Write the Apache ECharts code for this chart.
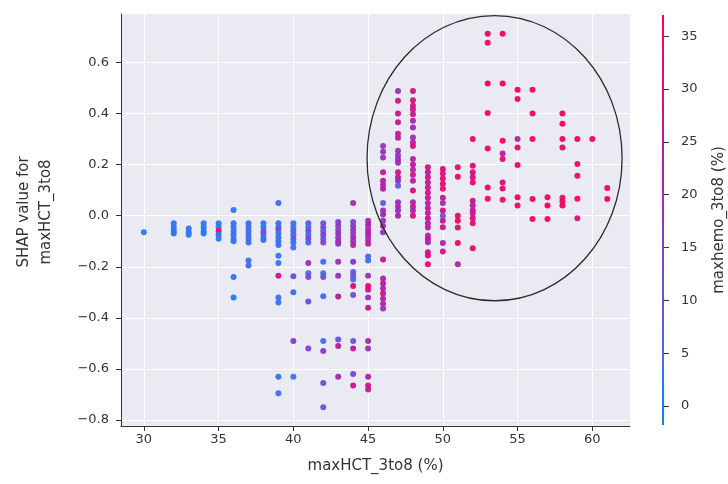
<!DOCTYPE html>
<html><head><meta charset="utf-8">
<script src="https://cdn.jsdelivr.net/npm/echarts@6/dist/echarts.min.js"></script>
<style>html,body{margin:0;padding:0;background:#fff}#c{width:728px;height:484px}</style>
</head><body><div id="c"></div>
<script>
// maxHCT_3to8 (%) column values
const hctCols = [30,32,33,34,35,36,37,38,39,40,41,42,43,44,45,46,47,48,49,50,51,52,53,54,55,56,57,58,59,60,61];
// SHAP values per column
const shapCols = [
 [-0.065],
 [-0.03,-0.045,-0.06,-0.07],
 [-0.05,-0.065,-0.075],
 [-0.03,-0.045,-0.06,-0.07],
 [-0.03,-0.045,-0.06,-0.075,-0.09],
 [0.022,-0.03,-0.045,-0.06,-0.075,-0.09,-0.1,-0.24,-0.32],
 [-0.03,-0.045,-0.06,-0.075,-0.09,-0.105,-0.175,-0.195],
 [-0.03,-0.045,-0.06,-0.07,-0.085,-0.095],
 [0.05,-0.03,-0.045,-0.055,-0.07,-0.085,-0.1,-0.115,-0.157,-0.185,-0.235,-0.32,-0.34,-0.63,-0.695],
 [-0.03,-0.045,-0.06,-0.075,-0.09,-0.105,-0.125,-0.237,-0.3,-0.49,-0.63],
 [-0.03,-0.045,-0.06,-0.075,-0.09,-0.105,-0.185,-0.225,-0.24,-0.336,-0.52],
 [-0.03,-0.045,-0.06,-0.075,-0.09,-0.105,-0.18,-0.225,-0.24,-0.315,-0.49,-0.53,-0.655,-0.75],
 [-0.025,-0.04,-0.055,-0.07,-0.085,-0.1,-0.11,-0.18,-0.235,-0.316,-0.485,-0.51,-0.63],
 [0.05,-0.025,-0.04,-0.055,-0.07,-0.085,-0.1,-0.115,-0.18,-0.22,-0.235,-0.25,-0.275,-0.31,-0.49,-0.52,-0.62,-0.665],
 [-0.02,-0.035,-0.05,-0.065,-0.08,-0.095,-0.11,-0.16,-0.175,-0.235,-0.275,-0.29,-0.32,-0.36,-0.49,-0.52,-0.63,-0.665,-0.68],
 [0.273,0.25,0.228,0.17,0.137,0.12,0.105,0.05,0.02,0.005,-0.02,-0.04,-0.065,-0.172,-0.246,-0.265,-0.285,-0.305,-0.325,-0.345,-0.363],
 [0.488,0.45,0.40,0.365,0.32,0.305,0.254,0.235,0.22,0.207,0.17,0.15,0.137,0.117,0.052,0.035,0.02,0.0],
 [0.488,0.452,0.43,0.415,0.397,0.371,0.345,0.306,0.286,0.273,0.222,0.2,0.18,0.16,0.137,0.098,0.052,0.035,0.02,0.0],
 [0.189,0.17,0.15,0.13,0.11,0.09,0.07,0.05,0.03,0.01,-0.01,-0.03,-0.046,-0.078,-0.09,-0.104,-0.143,-0.156,-0.19],
 [0.183,0.165,0.145,0.125,0.105,0.07,0.05,0.02,0.0,-0.02,-0.045,-0.107,-0.14],
 [0.189,0.152,0.0,-0.02,-0.046,-0.107,-0.19],
 [0.30,0.195,0.17,0.15,0.13,0.058,0.04,0.02,0.008,-0.01,-0.03,-0.128],
 [0.712,0.677,0.517,0.402,0.263,0.11,0.066],
 [0.712,0.517,0.293,0.243,0.222,0.13,0.106,0.062],
 [0.493,0.456,0.30,0.267,0.198,0.072,0.04],
 [0.493,0.40,0.30,0.065,-0.013],
 [0.072,0.04,-0.013],
 [0.40,0.36,0.30,0.267,0.07,0.055,0.04],
 [0.30,0.202,0.156,0.066,-0.01],
 [0.30],
 [0.108,0.065]
];
// maxhemo_3to8 (%) values per column (colour)
const hemoCols = [
 [2],
 [2,3,2,3],
 [2,3,2],
 [3,2,3,2],
 [3,2,36,3,2],
 [3,3,4,2,5,3,4,3,2],
 [3,4,3,5,3,4,3,4],
 [4,3,5,12,3,4],
 [3,3,4,12,3,5,3,4,3,3,30,3,3,3,4],
 [4,3,8,4,10,3,4,12,4,16,3],
 [8,5,12,4,14,6,20,5,14,11,15],
 [12,14,6,16,10,14,4,6,12,5,5,17,12,11],
 [15,18,12,20,16,22,18,19,18,26,10,26,22],
 [20,12,16,20,14,22,18,24,18,8,12,5,32,12,11,26,13,27],
 [20,24,18,26,22,20,25,4,5,18,33,28,20,27,22,19,26,27,26],
 [18,19,17,28,26,22,24,8,20,22,18,20,19,28,22,26,24,28,25,22,19],
 [19,27,27,26,27,24,19,18,20,19,28,26,21,9,20,22,19,24],
 [30,30,29,28,27,22,21,20,23,30,22,28,21,29,24,31,22,27,20,30],
 [28,25,30,24,28,26,31,22,27,24,29,22,26,20,28,22,30,29,32],
 [34,29,32,30,33,28,22,30,8,27,30,22,30],
 [33,34,34,35,33,34,24],
 [35,34,32,30,33,28,24,30,22,33,32,35],
 [36,35,36,35,35,34,35],
 [36,36,35,24,33,30,32,35],
 [35,35,22,35,35,35,34],
 [36,35,35,35,35],
 [35,36,35],
 [35,35,35,35,35,34,35],
 [36,35,35,35,30],
 [36],
 [35,36]
];
const xTicks = [30,35,40,45,50,55,60];
const yTicks = [-0.8,-0.6,-0.4,-0.2,0,0.2,0.4,0.6];
const cbTicks = [0,5,10,15,20,25,30,35];
const xRange = [28.47, 62.52];
const yRange = [-0.823, 0.789];
const hemoRange = [-1.8, 37];
const cmap = ['#008bfb','#3b6ff0','#6356e0','#8240cc','#a02ab4','#bf1899','#df0c77','#ff0051'];
// annotation ellipse: centre x, centre y, half-width, half-height (data units)
const ellipseAnno = [53.46, 0.225, 8.53, 0.558];

const pts = [];
hctCols.forEach((h, i) => {
  shapCols[i].forEach((s, j) => pts.push([h, s, hemoCols[i][j]]));
});
const FONT = 'DejaVu Sans';
const TXT = '#333333';
const fmt1 = v => v.toFixed(1).replace('-', '\u2212');

const chart = echarts.init(document.getElementById('c'), null, {renderer: 'canvas'});
chart.setOption({
  animation: false,
  backgroundColor: '#ffffff',
  grid: [
    {left: 121, right: 98, top: 14, bottom: 58, show: true, backgroundColor: '#eaeaf2', borderWidth: 0},
    {left: 662, width: 5, top: 15, height: 410}
  ],
  xAxis: [
    {type: 'value', gridIndex: 0, min: xRange[0], max: xRange[1],
     axisLine: {show: true, onZero: false, lineStyle: {color: TXT, width: 1}},
     axisTick: {show: true, length: 5, customValues: xTicks, lineStyle: {color: TXT}},
     axisLabel: {customValues: xTicks, margin: 7, color: TXT, fontSize: 13, fontFamily: FONT, formatter: v => String(v)},
     splitLine: {show: true, lineStyle: {color: '#ffffff', width: 1}},
     name: 'maxHCT_3to8 (%)', nameLocation: 'middle', nameGap: 33,
     nameTextStyle: {color: TXT, fontSize: 15, fontFamily: FONT}},
    {type: 'value', gridIndex: 1, min: 0, max: 1, show: false}
  ],
  yAxis: [
    {type: 'value', gridIndex: 0, min: yRange[0], max: yRange[1],
     axisLine: {show: true, onZero: false, lineStyle: {color: TXT, width: 1}},
     axisTick: {show: true, length: 5, customValues: yTicks, lineStyle: {color: TXT}},
     axisLabel: {customValues: yTicks, margin: 12, color: TXT, fontSize: 13, fontFamily: FONT, formatter: v => fmt1(v)},
     splitLine: {show: true, lineStyle: {color: '#ffffff', width: 1}},
     name: 'SHAP value for\nmaxHCT_3to8', nameLocation: 'middle', nameGap: 64, nameRotate: 90,
     nameTextStyle: {color: TXT, fontSize: 15, fontFamily: FONT, lineHeight: 22, align: 'center', padding: [0, 0, 0, 16]}},
    {type: 'value', gridIndex: 1, min: hemoRange[0], max: hemoRange[1], position: 'right',
     axisLine: {show: false},
     axisTick: {show: true, length: 7, customValues: cbTicks, lineStyle: {color: TXT}},
     axisLabel: {customValues: cbTicks, margin: 17, color: TXT, fontSize: 13, fontFamily: FONT},
     splitLine: {show: false},
     name: 'maxhemo_3to8 (%)', nameLocation: 'middle', nameGap: 48, nameRotate: 90,
     nameTextStyle: {color: TXT, fontSize: 15, fontFamily: FONT}}
  ],
  visualMap: {show: false, type: 'continuous', min: hemoRange[0], max: hemoRange[1], dimension: 2, seriesIndex: 0, inRange: {color: cmap}},
  series: [
    {type: 'scatter', xAxisIndex: 0, yAxisIndex: 0, data: pts, symbolSize: 6, itemStyle: {opacity: 0.95}, z: 3},
    {type: 'custom', xAxisIndex: 0, yAxisIndex: 0, data: [ellipseAnno], silent: true, z: 5,
     renderItem: (p, api) => {
       const c = api.coord([api.value(0), api.value(1)]);
       const s = api.size([api.value(2), api.value(3)]);
       return {type: 'ellipse', shape: {cx: c[0], cy: c[1], rx: s[0], ry: s[1]},
               style: {fill: null, stroke: '#2b2b2b', lineWidth: 1.3}};
     }},
    {type: 'custom', xAxisIndex: 1, yAxisIndex: 1, data: [[0, hemoRange[0], hemoRange[1]]], silent: true, clip: false,
     renderItem: (p, api) => {
       const a = api.coord([0, api.value(1)]);
       const b = api.coord([1, api.value(2)]);
       return {type: 'rect', shape: {x: a[0], y: b[1], width: b[0] - a[0], height: a[1] - b[1]},
               style: {fill: new echarts.graphic.LinearGradient(0, 1, 0, 0,
                 cmap.map((col, i) => ({offset: i / (cmap.length - 1), color: col})))}};
     }}
  ]
});
</script></body></html>
